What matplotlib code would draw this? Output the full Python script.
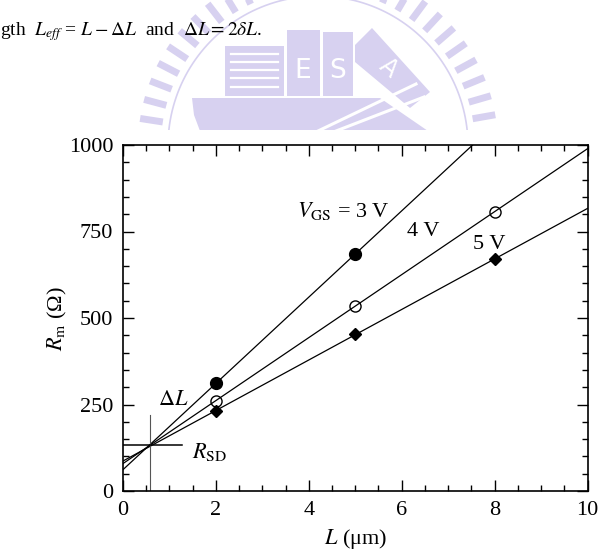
import numpy as np
import matplotlib
matplotlib.use('Agg')
import matplotlib.pyplot as plt
from matplotlib.patches import Polygon, Rectangle
from matplotlib.ticker import MultipleLocator

# channel length (um) and measured total resistance R_m (ohm)
L_um = np.array([2, 5, 8])
R_3V = np.array([311, 685])          # only L = 2, 5 measured
R_4V = np.array([261, 535, 807])
R_5V = np.array([232, 453, 670])
gate_labels = ['$V_{\\rm GS}$ = 3 V', '4 V', '5 V']

dL_um = 0.58     # common crossing point of the fitted lines
R_SD = 133

x_ticks = [0, 2, 4, 6, 8, 10]
y_ticks = [0, 250, 500, 750, 1000]

W, H = 602, 553
WM = '#d7d1f0'   # watermark lavender

plt.rcParams['font.family'] = ['Liberation Serif', 'DejaVu Serif']
plt.rcParams['mathtext.fontset'] = 'stix'

fig = plt.figure(figsize=(W / 100, H / 100), dpi=100)


def P(x, y):
    # pixel coords (origin top-left) -> figure fraction
    return (x / W, 1 - y / H)


# ---- watermark logo (top of page) ----
clip = Rectangle((0, 1 - 130 / H), 1, 130 / H, transform=fig.transFigure,
                 visible=False)
fig.add_artist(clip)
cx, cy = 318, 146
for a in np.arange(10, 172, 6.2):
    t = np.deg2rad(a)
    x0, y0 = cx + 157 * np.cos(t), cy - 157 * np.sin(t)
    x1, y1 = cx + 180 * np.cos(t), cy - 180 * np.sin(t)
    ln = plt.Line2D(*zip(P(x0, y0), P(x1, y1)), color=WM, lw=5,
                    solid_capstyle='butt', transform=fig.transFigure)
    fig.add_artist(ln)
    ln.set_clip_path(clip)
tt = np.deg2rad(np.linspace(0, 180, 200))
arc = plt.Line2D(*zip(*[P(cx + 150 * np.cos(v), cy - 150 * np.sin(v))
                        for v in tt]),
                 color=WM, lw=1.2, transform=fig.transFigure)
fig.add_artist(arc)
arc.set_clip_path(clip)

hull = Polygon([P(192, 98), P(380, 98), P(428, 131), P(200, 131),
                P(194, 115)], closed=True, fc=WM, ec='none',
               transform=fig.transFigure)
fig.add_artist(hull)
hull.set_clip_path(clip)
fig.add_artist(Polygon([P(225, 46), P(284, 46), P(284, 96), P(225, 96)],
                       fc=WM, ec='none', transform=fig.transFigure))
for yy in [54, 62, 70, 78, 87]:
    fig.add_artist(plt.Line2D(*zip(P(231, yy), P(278, yy)), color='white',
                              lw=1.6, transform=fig.transFigure))
fig.add_artist(Polygon([P(287, 30), P(320, 30), P(320, 96), P(287, 96)],
                       fc=WM, ec='none', transform=fig.transFigure))
fig.add_artist(Polygon([P(323, 32), P(353, 32), P(353, 96), P(323, 96)],
                       fc=WM, ec='none', transform=fig.transFigure))
fig.add_artist(Polygon([P(355, 45), P(372, 28), P(430, 92), P(410, 108),
                        P(355, 62)], fc=WM, ec='none',
                       transform=fig.transFigure))
fig.text(*P(303, 71), 'E', color='white', fontsize=19, family='DejaVu Sans',
         ha='center', va='center')
fig.text(*P(338, 71), 'S', color='white', fontsize=19, family='DejaVu Sans',
         ha='center', va='center')
fig.text(*P(388, 68), 'A', color='white', fontsize=17, family='DejaVu Sans',
         ha='center', va='center', rotation=-40)
for x0, x1, y1 in [(318, 416, 84), (336, 424, 97)]:
    ln = plt.Line2D(*zip(P(x0, 131), P(x1, y1)), color='white', lw=2.2,
                    transform=fig.transFigure)
    fig.add_artist(ln)

# ---- caption line from the page ----
fig.text(*P(0, 35), 'gth  $L_{eff}$ = $L-\\Delta L$  and  '
         '$\\Delta L = 2\\delta L$.', fontsize=14, va='baseline', ha='left')

# ---- chart ----
ax = fig.add_axes([123 / W, 1 - 491 / H, (587.5 - 123) / W, (491 - 145) / H])
xs = np.array([0.0, 10.0])
styles = [('o', 'k', 8.5), ('o', 'none', 8), ('D', 'k', 6)]
for R, (mk, face, ms) in zip([R_3V, R_4V, R_5V], styles):
    Ls = L_um[:len(R)]
    k, b = np.polyfit(Ls, R, 1)
    ax.plot(xs, k * xs + b, color='k', lw=0.9, zorder=2)
    ax.plot(Ls, R, ls='none', marker=mk, mfc=face, mec='k', mew=1.0, ms=ms,
            zorder=3)

ax.plot([dL_um, dL_um], [0, 220], color='#555555', lw=0.8)
ax.plot([0, 1.27], [R_SD, R_SD], color='k', lw=1.1)

ax.text(3.74, 810, gate_labels[0], fontsize=16, va='center', ha='left')
ax.text(6.11, 749, gate_labels[1], fontsize=16, va='center', ha='left')
ax.text(7.53, 711, gate_labels[2], fontsize=16, va='center', ha='left')
ax.text(0.75, 263, '$\\Delta L$', fontsize=16, va='center', ha='left')
ax.text(1.48, 113, '$R_{\\rm SD}$', fontsize=16, va='center', ha='left')

ax.set_xlim(0, 10)
ax.set_ylim(0, 1000)
ax.set_xticks(x_ticks)
ax.set_yticks(y_ticks)
ax.xaxis.set_minor_locator(MultipleLocator(0.5))
ax.yaxis.set_minor_locator(MultipleLocator(50))
ax.tick_params(which='both', direction='in', top=True, right=True,
               labelsize=16, width=1.0)
ax.tick_params(which='major', length=8, pad=7)
ax.tick_params(which='minor', length=4.5)
for s in ax.spines.values():
    s.set_linewidth(1.2)

ax.set_xlabel('$L$ (μm)', fontsize=16, labelpad=5)
ax.set_ylabel('$R_{\\rm m}$ (Ω)', fontsize=16, labelpad=0)

fig.savefig('out.png', dpi=100)
